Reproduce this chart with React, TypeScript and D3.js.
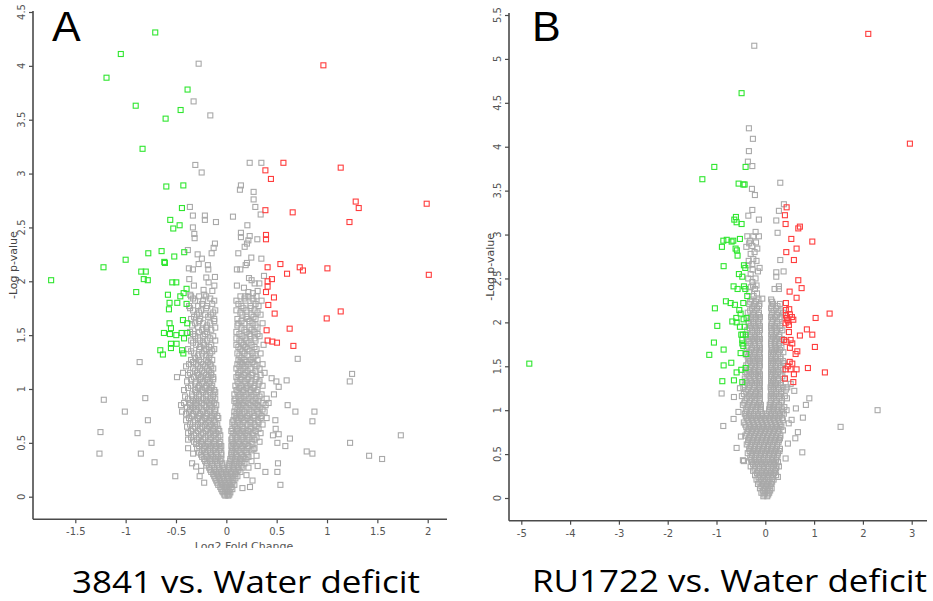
import React, { useEffect, useRef } from 'react';
import * as d3 from 'd3';

type Pt = [number, number];
type Row = [number, number[]];

// ---------------- Panel A: 3841 vs. Water deficit ----------------
const xTicksA = [-1.5, -1, -0.5, 0, 0.5, 1, 1.5, 2];
const yTicksA = [0, 0.5, 1, 1.5, 2, 2.5, 3, 3.5, 4, 4.5];

const greenA: Pt[] = [
  [-0.706, 4.31], [-1.048, 4.11], [-1.19, 3.89], [-0.385, 3.78], [-0.9, 3.63], [-0.454, 3.59], [-0.603, 3.51],
  [-0.832, 3.23], [-0.596, 2.88], [-0.427, 2.89], [-0.441, 2.68], [-0.557, 2.57], [-0.464, 2.52], [-0.527, 2.49],
  [-0.418, 2.27], [-0.643, 2.28], [-0.775, 2.26], [-0.517, 2.23], [-1.0, 2.2], [-0.616, 2.18], [-0.61, 2.17],
  [-1.22, 2.13], [-0.845, 2.09], [-0.8, 2.09], [-0.82, 2.02], [-0.78, 2.01], [-1.74, 2.01], [-0.537, 1.99],
  [-0.497, 1.99], [-0.895, 1.9], [-0.58, 1.875], [-0.395, 1.93], [-0.424, 1.89], [-0.457, 1.86], [-0.487, 1.8],
  [-0.564, 1.8], [-0.395, 1.79], [-0.57, 1.74], [-0.564, 1.61], [-0.431, 1.64], [-0.388, 1.61], [-0.55, 1.565],
  [-0.62, 1.52], [-0.56, 1.51], [-0.497, 1.5], [-0.444, 1.52], [-0.388, 1.52], [-0.42, 1.47], [-0.55, 1.42],
  [-0.494, 1.42], [-0.55, 1.38], [-0.656, 1.36], [-0.63, 1.32], [-0.44, 1.36], [-0.427, 1.33],
];

const redA: Pt[] = [
  [0.964, 4.005], [0.567, 3.1], [0.388, 3.03], [0.443, 2.95], [1.136, 3.055], [1.285, 2.74], [1.315, 2.68],
  [1.99, 2.72], [0.388, 2.66], [0.659, 2.64], [1.223, 2.55], [0.394, 2.43], [0.394, 2.39], [0.41, 2.13],
  [0.537, 2.16], [0.603, 2.07], [0.729, 2.13], [0.761, 2.1], [1.004, 2.12], [2.011, 2.06], [0.453, 2.02],
  [0.41, 2.0], [0.41, 1.95], [0.394, 1.9], [0.473, 1.85], [0.417, 1.78], [0.48, 1.7], [1.136, 1.72],
  [0.997, 1.655], [0.4, 1.545], [0.629, 1.56], [0.41, 1.45], [0.457, 1.44], [0.503, 1.43], [0.666, 1.4],
];

const grayOutA: Pt[] = [
  [-0.275, 4.02], [-0.325, 3.67], [-0.159, 3.54], [-0.308, 3.08], [-0.245, 3.01], [0.232, 3.1], [0.348, 3.1],
  [0.145, 2.89], [0.135, 2.85], [0.271, 2.83], [0.271, 2.76], [0.288, 2.69], [0.341, 2.62], [0.066, 2.6],
  [0.209, 2.52], [-0.362, 2.69], [-0.332, 2.61], [-0.213, 2.61], [-0.213, 2.57], [-0.103, 2.55], [-0.332, 2.5],
  [-0.318, 2.44], [-0.315, 2.4], [0.145, 2.45], [0.145, 2.41], [0.232, 2.42], [0.308, 2.39], [-0.113, 2.35],
  [-0.126, 2.31], [-0.146, 2.26], [0.219, 2.38], [0.205, 2.35], [0.182, 2.32], [0.119, 2.26], [0.248, 2.22],
  [0.205, 2.17], [0.192, 2.15], [0.348, 2.21], [-0.382, 2.29], [-0.285, 2.25], [-0.243, 2.21], [-0.275, 2.16],
  [-0.372, 2.12], [-0.332, 2.11], [-0.368, 2.02], [-0.183, 2.15], [-0.179, 2.11], [-0.199, 2.035], [-0.113, 2.04],
  [-0.176, 1.99], [-0.322, 1.96], [-0.119, 1.96], [0.105, 2.11], [0.139, 2.11], [0.225, 2.03], [0.251, 2.01],
  [0.374, 2.05], [0.281, 1.98], [0.328, 1.98], [0.105, 1.96], [0.175, 1.94], [-0.226, 1.92], [-0.139, 1.91],
  [-0.219, 1.875], [0.219, 1.9], [0.264, 1.89], [0.311, 1.91], [0.189, 1.86], [-0.358, 1.875],
  [-0.861, 1.25], [-1.217, 0.9], [-0.805, 0.915], [-1.008, 0.79], [-0.779, 0.71], [-1.25, 0.6], [-0.882, 0.59],
  [-0.743, 0.5], [-1.26, 0.4], [-0.849, 0.4], [-0.713, 0.32], [-0.507, 0.19], [0.709, 1.28], [1.249, 1.14],
  [1.226, 1.07], [0.599, 1.08], [0.45, 1.1], [0.497, 1.07], [0.52, 1.02], [0.473, 0.95], [0.609, 0.85],
  [0.686, 0.79], [0.875, 0.79], [0.855, 0.7], [0.487, 0.71], [0.49, 0.63], [0.463, 0.57], [0.52, 0.58],
  [0.632, 0.54], [0.586, 0.47], [0.507, 0.5], [0.798, 0.42], [0.855, 0.4], [1.229, 0.5], [0.513, 0.31],
  [0.507, 0.23], [0.388, 0.23], [0.537, 0.11], [0.235, 0.09], [0.311, 0.285], [1.733, 0.57], [1.418, 0.38],
  [1.547, 0.35], [-0.34, 0.31], [-0.3, 0.28], [-0.265, 0.19], [-0.38, 0.45], [-0.33, 0.4], [0.27, 0.44],
  [0.3, 0.38], [0.25, 0.33], [0.22, 0.27], [0.2, 0.2], [-0.22, 0.13], [0.16, 0.08], [-0.25, 0.24], [0.26, 0.15],
];

const grayRowsA: Row[] = [
  [1.86, [-0.35, -0.27, -0.2, 0.14, 0.22, 0.3]],
  [1.82, [-0.31, -0.23, -0.12, 0.1, 0.19, 0.27, 0.35]],
  [1.77, [-0.37, -0.28, -0.19, 0.15, 0.24, 0.32]],
  [1.73, [-0.33, -0.25, -0.11, 0.1, 0.2, 0.28]],
  [1.69, [-0.29, -0.21, -0.15, 0.16, 0.25, 0.34]],
  [1.65, [-0.35, -0.26, -0.12, 0.11, 0.21, 0.29]],
  [1.61, [-0.31, -0.23, -0.16, 0.12, 0.18, 0.26, 0.36]],
  [1.57, [-0.28, -0.2, -0.11, 0.15, 0.23, 0.31]],
  [1.53, [-0.36, -0.27, -0.19, 0.1, 0.2, 0.28]],
  [1.49, [-0.31, -0.23, -0.13, 0.16, 0.24, 0.33]],
  [1.45, [-0.35, -0.26, -0.19, -0.11, 0.13, 0.2, 0.29]],
  [1.41, [-0.3, -0.22, -0.15, 0.1, 0.17, 0.25, 0.37]],
  [1.37, [-0.38, -0.27, -0.2, -0.12, 0.14, 0.21, 0.3]],
  [1.33, [-0.32, -0.24, -0.16, 0.11, 0.18, 0.26, 0.34]],
  [1.27, [-0.35, -0.27, -0.2, -0.14, 0.12, 0.18, 0.24, 0.31]],
  [1.23, [-0.37, -0.3, -0.23, -0.16, 0.11, 0.16, 0.22, 0.28, 0.36]],
  [1.19, [-0.33, -0.26, -0.19, -0.13, 0.1, 0.17, 0.24, 0.33]],
  [1.15, [-0.43, -0.36, -0.29, -0.22, -0.15, 0.12, 0.19, 0.26, 0.38]],
  [1.11, [-0.49, -0.32, -0.25, -0.18, -0.13, 0.1, 0.15, 0.22, 0.3]],
  [1.07, [-0.39, -0.3, -0.23, -0.16, 0.11, 0.18, 0.25, 0.33]],
  [1.03, [-0.35, -0.27, -0.2, -0.14, 0.09, 0.15, 0.21, 0.28, 0.36]],
  [0.99, [-0.42, -0.31, -0.24, -0.17, -0.12, 0.1, 0.17, 0.24, 0.31]],
  [0.95, [-0.34, -0.27, -0.2, -0.13, 0.08, 0.14, 0.2, 0.27, 0.35]],
  [0.91, [-0.38, -0.3, -0.23, -0.16, -0.11, 0.09, 0.15, 0.22, 0.29, 0.4]],
  [0.87, [-0.42, -0.36, -0.3, -0.24, -0.17, -0.12, 0.1, 0.16, 0.22, 0.29, 0.36, 0.42]],
  [0.83, [-0.39, -0.33, -0.27, -0.2, -0.14, 0.09, 0.14, 0.2, 0.27, 0.33]],
  [0.79, [-0.44, -0.37, -0.3, -0.23, -0.16, -0.11, 0.08, 0.13, 0.18, 0.25, 0.31, 0.38]],
  [0.75, [-0.34, -0.27, -0.2, -0.14, -0.09, 0.08, 0.14, 0.21, 0.28, 0.35]],
  [0.71, [-0.4, -0.31, -0.24, -0.17, -0.12, 0.07, 0.12, 0.18, 0.24, 0.31]],
  [0.67, [-0.36, -0.28, -0.21, -0.15, -0.09, 0.08, 0.14, 0.21, 0.28, 0.36]],
  [0.63, [-0.33, -0.26, -0.19, -0.13, -0.08, 0.06, 0.11, 0.17, 0.24, 0.32]],
  [0.59, [-0.38, -0.3, -0.23, -0.16, -0.1, 0.07, 0.13, 0.19, 0.26, 0.34]],
  [0.55, [-0.35, -0.27, -0.21, -0.15, -0.08, 0.06, 0.11, 0.17, 0.23, 0.3]],
  [0.51, [-0.32, -0.25, -0.18, -0.12, -0.06, 0.06, 0.12, 0.18, 0.25, 0.33]],
  [0.47, [-0.27, -0.21, -0.15, -0.1, -0.05, 0.05, 0.1, 0.16, 0.22]],
  [0.43, [-0.24, -0.18, -0.13, -0.07, 0.06, 0.12, 0.18, 0.25]],
  [0.39, [-0.25, -0.2, -0.15, -0.1, -0.05, 0.05, 0.1, 0.15, 0.21]],
  [0.35, [-0.22, -0.16, -0.11, -0.05, 0.04, 0.09, 0.14, 0.19]],
  [0.31, [-0.19, -0.14, -0.09, -0.04, 0.03, 0.08, 0.13, 0.18]],
  [0.27, [-0.17, -0.12, -0.07, -0.03, 0.03, 0.07, 0.12, 0.16]],
  [0.23, [-0.15, -0.1, -0.05, 0.0, 0.05, 0.1, 0.14]],
  [0.19, [-0.12, -0.08, -0.03, 0.02, 0.07, 0.11]],
  [0.15, [-0.1, -0.06, -0.02, 0.03, 0.07]],
  [0.11, [-0.08, -0.04, 0.0, 0.04, 0.08]],
  [0.07, [-0.05, -0.01, 0.03, 0.06]],
  [0.04, [-0.03, 0.01, 0.04]],
  [0.01, [-0.01, 0.02]],
];

// in-between rows of the dense part of panel A
const grayRowsA2: Row[] = [
  [1.84, [-0.33, -0.16, 0.18, 0.26]],
  [1.79, [-0.24, -0.14, 0.12, 0.29]],
  [1.75, [-0.36, -0.2, 0.17, 0.24]],
  [1.71, [-0.27, -0.13, 0.14, 0.31]],
  [1.67, [-0.32, -0.18, 0.2, 0.27]],
  [1.63, [-0.27, -0.12, 0.15, 0.23]],
  [1.59, [-0.34, -0.19, 0.11, 0.29]],
  [1.55, [-0.24, -0.15, 0.18, 0.25]],
  [1.51, [-0.33, -0.21, 0.13, 0.23, 0.31]],
  [1.47, [-0.28, -0.16, 0.1, 0.19, 0.28]],
  [1.43, [-0.33, -0.23, 0.15, 0.22]],
  [1.39, [-0.26, -0.17, 0.12, 0.19, 0.28]],
  [1.35, [-0.35, -0.22, -0.14, 0.16, 0.23]],
  [1.31, [-0.28, -0.2, 0.13, 0.21, 0.29]],
  [1.29, [-0.31, -0.17, 0.15, 0.27]],
  [1.25, [-0.33, -0.25, -0.18, 0.14, 0.2, 0.26]],
  [1.21, [-0.4, -0.28, -0.21, -0.15, 0.13, 0.19, 0.3]],
  [1.17, [-0.31, -0.24, -0.17, 0.14, 0.21, 0.29]],
  [1.13, [-0.38, -0.28, -0.2, -0.15, 0.12, 0.18, 0.25, 0.34]],
  [1.09, [-0.35, -0.26, -0.19, -0.13, 0.14, 0.21, 0.29]],
  [1.05, [-0.31, -0.24, -0.17, 0.12, 0.19, 0.24, 0.32]],
  [1.01, [-0.38, -0.28, -0.21, -0.15, 0.13, 0.2, 0.27]],
  [0.97, [-0.3, -0.23, -0.16, -0.11, 0.11, 0.17, 0.24, 0.3]],
  [0.93, [-0.41, -0.34, -0.27, -0.2, -0.13, 0.12, 0.18, 0.25, 0.33]],
  [0.89, [-0.33, -0.27, -0.2, -0.14, 0.08, 0.13, 0.19, 0.26, 0.32]],
  [0.85, [-0.45, -0.36, -0.3, -0.22, -0.16, -0.1, 0.12, 0.17, 0.24, 0.31, 0.39]],
  [0.81, [-0.36, -0.3, -0.24, -0.17, -0.11, 0.11, 0.16, 0.23, 0.3, 0.36]],
  [0.77, [-0.4, -0.33, -0.26, -0.19, -0.12, 0.1, 0.16, 0.23, 0.32]],
  [0.73, [-0.37, -0.28, -0.21, -0.15, -0.08, 0.1, 0.15, 0.21, 0.27, 0.34, 0.4]],
  [0.69, [-0.33, -0.25, -0.18, -0.11, 0.06, 0.11, 0.17, 0.24, 0.32]],
  [0.65, [-0.39, -0.31, -0.24, -0.17, -0.11, 0.09, 0.16, 0.24, 0.3]],
  [0.61, [-0.35, -0.28, -0.2, -0.13, -0.07, 0.05, 0.1, 0.16, 0.22, 0.29]],
  [0.57, [-0.32, -0.25, -0.18, -0.12, -0.06, 0.09, 0.15, 0.21, 0.27]],
  [0.53, [-0.38, -0.29, -0.23, -0.16, -0.1, 0.05, 0.09, 0.15, 0.21, 0.28]],
  [0.49, [-0.3, -0.24, -0.18, -0.12, -0.07, 0.07, 0.13, 0.19, 0.26]],
  [0.45, [-0.29, -0.22, -0.16, -0.11, -0.06, 0.06, 0.09, 0.15, 0.21, 0.28]],
  [0.41, [-0.27, -0.21, -0.16, -0.1, -0.05, 0.05, 0.08, 0.14, 0.2]],
  [0.37, [-0.24, -0.19, -0.13, -0.08, 0.06, 0.11, 0.17, 0.22]],
  [0.33, [-0.21, -0.16, -0.11, -0.06, 0.04, 0.1, 0.16]],
  [0.29, [-0.2, -0.14, -0.09, -0.04, 0.03, 0.06, 0.1, 0.15]],
  [0.25, [-0.16, -0.12, -0.07, -0.02, 0.02, 0.08, 0.12]],
  [0.21, [-0.13, -0.09, -0.05, 0.0, 0.04, 0.09]],
  [0.17, [-0.11, -0.07, -0.04, 0.01, 0.05, 0.09]],
  [0.13, [-0.09, -0.05, -0.01, 0.02, 0.06]],
  [0.09, [-0.06, -0.02, 0.01, 0.05]],
  [0.05, [-0.04, -0.01, 0.02]],
  [0.02, [-0.02, 0.01, 0.03]],
];

// ---------------- Panel B: RU1722 vs. Water deficit ----------------
const xTicksB = [-5, -4, -3, -2, -1, 0, 1, 2, 3];
const yTicksB = [0, 0.5, 1, 1.5, 2, 2.5, 3, 3.5, 4, 4.5, 5, 5.5];

const greenB: Pt[] = [
  [-0.486, 4.61], [-1.045, 3.77], [-0.404, 3.77], [-1.29, 3.63], [-0.547, 3.58], [-0.45, 3.57], [-0.424, 3.57],
  [-0.602, 3.2], [-0.635, 3.17], [-0.588, 3.14], [-0.486, 3.12], [-0.52, 2.95], [-0.86, 2.93], [-0.79, 2.94],
  [-0.69, 2.92], [-0.656, 2.93], [-0.889, 2.86], [-0.609, 2.84], [-0.582, 2.82], [-0.568, 2.76], [-0.854, 2.64],
  [-0.438, 2.65], [-0.41, 2.62], [-0.541, 2.55], [-0.471, 2.52], [-0.65, 2.41], [-0.568, 2.38], [-0.438, 2.41],
  [-0.41, 2.38], [-0.369, 2.3], [-0.807, 2.24], [-0.711, 2.22], [-0.623, 2.2], [-1.033, 2.16], [-0.533, 2.14],
  [-0.451, 2.22], [-0.506, 2.1], [-0.594, 2.05], [-0.445, 2.035], [-0.383, 2.05], [-0.676, 2.01], [-0.588, 2.0],
  [-0.984, 1.96], [-0.52, 1.95], [-0.424, 1.95], [-0.492, 1.86], [-0.404, 1.86], [-0.46, 1.86], [-0.471, 1.8],
  [-1.053, 1.77], [-0.471, 1.76], [-0.451, 1.73], [-0.854, 1.69], [-0.506, 1.65], [-0.389, 1.64], [-1.148, 1.63],
  [-0.697, 1.54], [-0.854, 1.51], [-4.836, 1.53], [-0.404, 1.48], [-0.492, 1.46], [-0.588, 1.43], [-0.881, 1.33],
  [-0.643, 1.34], [-0.471, 1.32],
];

const redB: Pt[] = [
  [2.11, 5.285], [2.963, 4.035], [0.437, 3.31], [0.402, 3.22], [0.416, 3.12], [0.676, 3.07], [0.709, 3.09],
  [0.533, 2.95], [0.963, 2.92], [0.641, 2.84], [0.43, 2.8], [0.586, 2.71], [0.676, 2.48], [0.744, 2.39],
  [0.498, 2.35], [0.641, 2.28], [0.422, 2.22], [0.422, 2.14], [0.49, 2.15], [0.422, 2.08], [0.504, 2.09],
  [0.545, 2.06], [0.44, 2.05], [0.47, 2.01], [1.318, 2.1], [1.031, 2.05], [0.574, 2.03], [0.45, 2.03],
  [0.416, 1.99], [0.484, 1.97], [0.852, 1.92], [0.963, 1.86], [0.709, 1.85], [0.484, 1.89], [0.381, 1.8],
  [0.43, 1.78], [0.518, 1.8], [0.553, 1.76], [1.016, 1.72], [0.504, 1.71], [0.656, 1.67], [0.621, 1.64],
  [0.873, 1.48], [1.221, 1.43], [0.416, 1.465], [0.518, 1.465], [0.553, 1.53], [0.641, 1.465], [0.586, 1.41],
  [0.402, 1.36], [0.574, 1.32], [0.46, 1.5], [0.5, 1.55],
];

const grayOutB: Pt[] = [
  [-0.226, 5.15], [-0.336, 4.21], [-0.254, 4.09], [-0.336, 3.95], [-0.357, 3.83], [-0.266, 3.78], [0.307, 3.59],
  [-0.274, 3.52], [-0.213, 3.45], [0.381, 3.345], [0.279, 3.27], [-0.266, 3.28], [-0.348, 3.215], [-0.131, 3.17],
  [0.225, 3.16], [0.252, 3.02], [-0.199, 3.03], [-0.369, 2.98], [-0.246, 2.98], [-0.131, 2.98], [-0.389, 2.86],
  [-0.266, 2.87], [-0.164, 2.84], [-0.31, 2.93], [-0.19, 2.91], [-0.246, 2.72], [0.307, 2.71], [-0.348, 2.65],
  [-0.266, 2.665], [-0.117, 2.62], [-0.15, 2.58], [0.225, 2.57], [0.225, 2.52], [0.375, 2.58], [-0.266, 2.46],
  [-0.213, 2.38], [0.19, 2.38], [0.279, 2.41], [0.279, 2.38], [-0.062, 2.27], [-0.3, 2.55], [-0.2, 2.5],
  [-0.25, 2.42], [-0.33, 2.35], [-0.17, 2.33], [-0.24, 2.3], [-0.33, 2.9], [-0.22, 2.8], [-0.3, 2.78],
  [-0.34, 2.7], [-0.18, 2.7], [-0.26, 2.6], [-0.35, 2.5], [-0.3, 2.4], [-0.18, 2.42],
  [2.301, 1.0], [1.543, 0.81], [0.902, 1.135], [0.832, 1.06], [0.627, 1.02], [0.77, 0.915], [0.539, 0.89],
  [0.668, 0.75], [0.615, 0.68], [0.463, 0.62], [0.758, 0.52], [0.416, 0.45], [0.594, 1.22], [0.443, 1.135],
  [0.436, 1.0], [0.361, 0.77], [0.3, 0.68], [0.279, 0.36], [0.258, 0.24], [-0.895, 1.19], [-0.643, 1.15],
  [-0.861, 0.82], [-0.65, 0.9], [-0.588, 0.57], [-0.438, 0.42], [-0.459, 0.43], [-0.52, 1.25], [-0.55, 0.98],
  [-0.5, 0.7], [0.48, 0.85], [0.52, 1.3], [0.45, 1.26],
];

const grayRowsB: Row[] = [
  [2.26, [-0.28, -0.14, 0.12]],
  [2.21, [-0.33, -0.22, -0.12, 0.16, 0.3]],
  [2.16, [-0.27, -0.17, 0.12, 0.22]],
  [2.11, [-0.36, -0.24, -0.13, 0.14, 0.27, 0.36]],
  [2.06, [-0.3, -0.19, -0.11, 0.12, 0.2, 0.31]],
  [2.01, [-0.34, -0.25, -0.15, 0.13, 0.24]],
  [1.96, [-0.29, -0.2, -0.11, 0.12, 0.19, 0.3]],
  [1.91, [-0.37, -0.27, -0.17, -0.11, 0.13, 0.24, 0.35]],
  [1.86, [-0.31, -0.22, -0.13, 0.12, 0.19, 0.29]],
  [1.81, [-0.35, -0.26, -0.17, -0.11, 0.13, 0.23, 0.34]],
  [1.76, [-0.3, -0.21, -0.12, 0.12, 0.19, 0.28]],
  [1.71, [-0.38, -0.27, -0.17, -0.11, 0.13, 0.22, 0.33]],
  [1.66, [-0.33, -0.23, -0.13, 0.12, 0.18, 0.27, 0.37]],
  [1.61, [-0.36, -0.26, -0.18, -0.11, 0.12, 0.21, 0.31]],
  [1.56, [-0.31, -0.21, -0.12, 0.12, 0.17, 0.26, 0.36]],
  [1.51, [-0.39, -0.28, -0.18, -0.11, 0.12, 0.21, 0.31]],
  [1.46, [-0.34, -0.24, -0.14, 0.12, 0.17, 0.26, 0.36]],
  [1.41, [-0.37, -0.29, -0.19, -0.11, 0.12, 0.21, 0.31]],
  [1.36, [-0.42, -0.32, -0.22, -0.12, 0.12, 0.18, 0.26, 0.4]],
  [1.31, [-0.37, -0.27, -0.17, -0.11, 0.12, 0.21, 0.32]],
  [1.26, [-0.45, -0.33, -0.23, -0.13, 0.11, 0.17, 0.26, 0.37]],
  [1.21, [-0.39, -0.29, -0.19, -0.11, 0.12, 0.22, 0.33]],
  [1.16, [-0.48, -0.34, -0.24, -0.14, 0.11, 0.17, 0.28, 0.4]],
  [1.11, [-0.41, -0.31, -0.21, -0.11, 0.12, 0.23, 0.34]],
  [1.06, [-0.46, -0.36, -0.26, -0.16, -0.09, 0.09, 0.17, 0.28]],
  [1.01, [-0.4, -0.3, -0.2, -0.09, 0.08, 0.15, 0.23, 0.34]],
  [0.96, [-0.42, -0.33, -0.24, -0.15, -0.06, 0.03, 0.12, 0.21, 0.3, 0.38]],
  [0.91, [-0.38, -0.29, -0.2, -0.11, -0.02, 0.07, 0.16, 0.25, 0.34]],
  [0.86, [-0.44, -0.34, -0.25, -0.16, -0.07, 0.02, 0.11, 0.2, 0.29]],
  [0.81, [-0.39, -0.3, -0.21, -0.12, -0.03, 0.06, 0.15, 0.24, 0.33]],
  [0.76, [-0.36, -0.27, -0.18, -0.09, 0.0, 0.09, 0.18, 0.27]],
  [0.71, [-0.41, -0.32, -0.23, -0.14, -0.05, 0.04, 0.13, 0.22, 0.31]],
  [0.66, [-0.35, -0.26, -0.17, -0.08, 0.01, 0.1, 0.19, 0.28]],
  [0.61, [-0.38, -0.3, -0.21, -0.12, -0.03, 0.06, 0.15, 0.24]],
  [0.56, [-0.33, -0.24, -0.15, -0.06, 0.03, 0.12, 0.21, 0.3]],
  [0.51, [-0.36, -0.28, -0.19, -0.1, -0.01, 0.08, 0.17, 0.26]],
  [0.46, [-0.31, -0.22, -0.13, -0.04, 0.05, 0.14, 0.23]],
  [0.41, [-0.27, -0.18, -0.09, 0.0, 0.09, 0.18, 0.26]],
  [0.36, [-0.3, -0.21, -0.12, -0.03, 0.06, 0.15, 0.23]],
  [0.31, [-0.25, -0.16, -0.07, 0.02, 0.11, 0.2]],
  [0.26, [-0.21, -0.12, -0.03, 0.06, 0.15, 0.22]],
  [0.21, [-0.18, -0.09, 0.0, 0.09, 0.17]],
  [0.16, [-0.15, -0.06, 0.03, 0.12]],
  [0.11, [-0.11, -0.03, 0.06, 0.13]],
  [0.06, [-0.08, 0.0, 0.08]],
  [0.02, [-0.04, 0.04]],
];

// in-between rows of the dense part of panel B
const grayRowsB2: Row[] = [
  [2.235, [-0.31, -0.19, 0.14]],
  [2.185, [-0.24, -0.13, 0.13, 0.25]],
  [2.135, [-0.31, -0.2, 0.17, 0.31]],
  [2.085, [-0.25, -0.14, 0.13, 0.24]],
  [2.035, [-0.29, -0.2, -0.12, 0.16, 0.29]],
  [1.985, [-0.34, -0.24, -0.14, 0.13, 0.25]],
  [1.935, [-0.32, -0.21, -0.12, 0.12, 0.19, 0.31]],
  [1.885, [-0.26, -0.17, 0.14, 0.22]],
  [1.835, [-0.39, -0.3, -0.21, -0.12, 0.16, 0.28]],
  [1.785, [-0.33, -0.24, -0.14, 0.12, 0.2, 0.31]],
  [1.735, [-0.35, -0.22, -0.12, 0.12, 0.2, 0.27]],
  [1.685, [-0.29, -0.19, -0.11, 0.14, 0.22, 0.3]],
  [1.635, [-0.4, -0.31, -0.22, -0.13, 0.12, 0.16, 0.26]],
  [1.585, [-0.34, -0.25, -0.16, -0.11, 0.13, 0.21, 0.31]],
  [1.535, [-0.35, -0.24, -0.13, 0.12, 0.16, 0.26, 0.38]],
  [1.485, [-0.3, -0.21, -0.12, 0.13, 0.21, 0.31]],
  [1.435, [-0.41, -0.32, -0.23, -0.14, 0.12, 0.16, 0.26]],
  [1.385, [-0.34, -0.24, -0.15, -0.11, 0.13, 0.21, 0.35]],
  [1.335, [-0.39, -0.29, -0.2, -0.12, 0.12, 0.16, 0.26]],
  [1.285, [-0.42, -0.32, -0.22, -0.12, 0.13, 0.21, 0.31]],
  [1.235, [-0.36, -0.26, -0.16, -0.11, 0.12, 0.17, 0.28, 0.42]],
  [1.185, [-0.44, -0.31, -0.21, -0.11, 0.13, 0.22, 0.32]],
  [1.135, [-0.38, -0.28, -0.18, -0.11, 0.12, 0.17, 0.29]],
  [1.085, [-0.43, -0.33, -0.23, -0.13, 0.11, 0.21, 0.33]],
  [1.035, [-0.36, -0.26, -0.16, -0.1, 0.1, 0.17, 0.28, 0.39]],
  [0.985, [-0.38, -0.29, -0.2, -0.1, 0.08, 0.17, 0.26, 0.35]],
  [0.935, [-0.4, -0.33, -0.24, -0.15, -0.06, 0.02, 0.11, 0.2, 0.29]],
  [0.885, [-0.36, -0.27, -0.18, -0.09, 0.0, 0.09, 0.18, 0.27, 0.36]],
  [0.835, [-0.41, -0.32, -0.23, -0.14, -0.05, 0.04, 0.13, 0.22, 0.31]],
  [0.785, [-0.34, -0.25, -0.16, -0.07, 0.02, 0.11, 0.2, 0.29]],
  [0.735, [-0.38, -0.29, -0.2, -0.11, -0.02, 0.07, 0.16, 0.25]],
  [0.685, [-0.33, -0.24, -0.15, -0.06, 0.03, 0.12, 0.21, 0.3]],
  [0.635, [-0.35, -0.26, -0.17, -0.08, 0.01, 0.1, 0.19, 0.27]],
  [0.585, [-0.3, -0.21, -0.12, -0.03, 0.06, 0.15, 0.24]],
  [0.535, [-0.32, -0.24, -0.15, -0.06, 0.03, 0.12, 0.21, 0.29]],
  [0.485, [-0.27, -0.18, -0.09, 0.0, 0.09, 0.18, 0.25]],
  [0.435, [-0.29, -0.22, -0.13, -0.04, 0.05, 0.14, 0.22]],
  [0.385, [-0.25, -0.16, -0.07, 0.02, 0.11, 0.19]],
  [0.335, [-0.22, -0.12, -0.03, 0.06, 0.15, 0.22]],
  [0.285, [-0.17, -0.08, 0.01, 0.1, 0.18]],
  [0.235, [-0.14, -0.05, 0.04, 0.13]],
  [0.185, [-0.12, -0.03, 0.06, 0.14]],
  [0.135, [-0.08, 0.01, 0.09]],
  [0.085, [-0.05, 0.04, 0.1]],
  [0.04, [-0.02, 0.06]],
];

const titleA = '3841 vs. Water deficit';
const titleB = 'RU1722 vs. Water deficit';

// ---------------- drawing ----------------
const GRAY = '#a9a9a9';
const GREEN = '#2fe62f';
const RED = '#ff3d3d';
const AXIS = '#4a4a4a';
const TICKTXT = '#555';

const rowsToPts = (rows: Row[]): Pt[] => rows.flatMap(([y, xs]) => xs.map((x) => [x, y] as Pt));

interface PanelCfg {
  id: string;
  letter: string;
  title: string;
  xDomain: [number, number];
  xRange: [number, number];
  yDomain: [number, number];
  yRange: [number, number];
  left: number;
  right: number;
  top: number;
  bottom: number;
  xTicks: number[];
  yTicks: number[];
  gray: Pt[];
  green: Pt[];
  red: Pt[];
  yLabelX: number;
  yTitleX: number;
  xTitleY: number;
  clipY: number;
  letterX: number;
  titleX: number;
  titleY: number;
  titleLen: number;
}

function drawPanel(root: d3.Selection<SVGGElement, unknown, null, undefined>, c: PanelCfg) {
  const x = d3.scaleLinear().domain(c.xDomain).range(c.xRange);
  const y = d3.scaleLinear().domain(c.yDomain).range(c.yRange);
  const g = root.append('g');

  const s = 5;
  const layers: [Pt[], string][] = [
    [c.gray, GRAY],
    [c.green, GREEN],
    [c.red, RED],
  ];
  layers.forEach(([pts, col]) => {
    g.append('g')
      .selectAll('rect')
      .data(pts)
      .join('rect')
      .attr('x', (d) => x(d[0]) - s / 2)
      .attr('y', (d) => y(d[1]) - s / 2)
      .attr('width', s)
      .attr('height', s)
      .attr('fill', 'none')
      .attr('stroke', col)
      .attr('stroke-width', 1.1);
  });

  // axis lines
  g.append('line')
    .attr('x1', c.left).attr('x2', c.left).attr('y1', c.top).attr('y2', c.bottom)
    .attr('stroke', AXIS).attr('stroke-width', 1.6);
  g.append('line')
    .attr('x1', c.left).attr('x2', c.right).attr('y1', c.bottom).attr('y2', c.bottom)
    .attr('stroke', AXIS).attr('stroke-width', 1.6);

  // x axis ticks
  const xa = g.append('g').attr('transform', `translate(0,${c.bottom})`)
    .call(d3.axisBottom(x).tickValues(c.xTicks).tickSize(4).tickPadding(5).tickFormat((d) => String(d)));
  xa.select('.domain').remove();
  xa.selectAll('line').attr('stroke', AXIS).attr('stroke-width', 1.2);
  xa.selectAll('text').attr('fill', TICKTXT).attr('font-size', 10).attr('font-family', 'DejaVu Sans, sans-serif');

  // y axis ticks
  const ya = g.append('g').attr('transform', `translate(${c.left},0)`)
    .call(d3.axisLeft(y).tickValues(c.yTicks).tickSize(4).tickFormat(() => ''));
  ya.select('.domain').remove();
  ya.selectAll('line').attr('stroke', AXIS).attr('stroke-width', 1.2);
  ya.selectAll('text').remove();
  g.append('g')
    .selectAll('text')
    .data(c.yTicks)
    .join('text')
    .attr('transform', (d) => `translate(${c.yLabelX},${y(d)}) rotate(-90)`)
    .attr('text-anchor', 'middle')
    .attr('fill', TICKTXT)
    .attr('font-size', 10)
    .attr('font-family', 'DejaVu Sans, sans-serif')
    .text((d) => String(d));

  // axis titles
  g.append('text')
    .attr('transform', `translate(${c.yTitleX},${(c.top + c.bottom) / 2}) rotate(-90)`)
    .attr('text-anchor', 'middle')
    .attr('fill', '#444')
    .attr('font-size', 11)
    .attr('font-family', 'DejaVu Sans, sans-serif')
    .text('-Log p-value');

  const clipId = `clip-${c.id}`;
  g.append('clipPath').attr('id', clipId).append('rect')
    .attr('x', 0).attr('y', 0).attr('width', 933).attr('height', c.clipY);
  g.append('text')
    .attr('clip-path', `url(#${clipId})`)
    .attr('x', (c.left + c.right) / 2 + 4)
    .attr('y', c.xTitleY)
    .attr('text-anchor', 'middle')
    .attr('fill', TICKTXT)
    .attr('font-size', 11)
    .attr('font-family', 'DejaVu Sans, sans-serif')
    .text('Log2 Fold Change');

  // panel letter
  g.append('text')
    .attr('x', c.letterX)
    .attr('y', 41)
    .attr('font-size', 43)
    .attr('font-family', 'Liberation Sans, Arial, sans-serif')
    .attr('fill', '#000')
    .text(c.letter);

  // panel title
  g.append('text')
    .attr('x', c.titleX)
    .attr('y', c.titleY)
    .attr('font-size', 31)
    .attr('font-family', 'Open Sans, sans-serif')
    .attr('fill', '#000')
    .attr('textLength', c.titleLen)
    .attr('lengthAdjust', 'spacingAndGlyphs')
    .text(c.title);
}

export default function App() {
  const ref = useRef<SVGGElement | null>(null);

  useEffect(() => {
    if (!ref.current) return;
    const root = d3.select(ref.current);
    root.selectAll('*').remove();

    drawPanel(root, {
      id: 'a', letter: 'A', title: titleA,
      xDomain: [-1.5, 2], xRange: [75.3, 427.7],
      yDomain: [0, 4.5], yRange: [496.7, 12],
      left: 33, right: 447, top: 11, bottom: 519.3,
      xTicks: xTicksA, yTicks: yTicksA,
      gray: [...grayOutA, ...rowsToPts(grayRowsA), ...rowsToPts(grayRowsA2)], green: greenA, red: redA,
      yLabelX: 24.5, yTitleX: 16.5, xTitleY: 550, clipY: 548,
      letterX: 52, titleX: 72, titleY: 593, titleLen: 348,
    });

    drawPanel(root, {
      id: 'b', letter: 'B', title: titleB,
      xDomain: [-5, 3], xRange: [521.3, 911.7],
      yDomain: [0, 5.5], yRange: [498, 15],
      left: 509, right: 927, top: 13, bottom: 520.7,
      xTicks: xTicksB, yTicks: yTicksB,
      gray: [...grayOutB, ...rowsToPts(grayRowsB), ...rowsToPts(grayRowsB2)], green: greenB, red: redB,
      yLabelX: 500.5, yTitleX: 494, xTitleY: 553, clipY: 545,
      letterX: 532, titleX: 532, titleY: 592, titleLen: 395,
    });
  }, []);

  return (
    <svg
      width={933}
      height={601}
      style={{ position: 'absolute', left: 0, top: 0, background: '#fff' }}
    >
      <g ref={ref} />
    </svg>
  );
}
